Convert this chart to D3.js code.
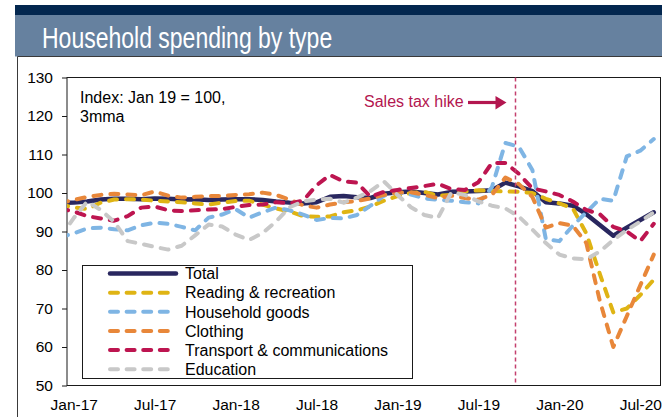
<!DOCTYPE html>
<html>
<head>
<meta charset="utf-8">
<script src="https://cdn.jsdelivr.net/npm/d3@7"></script>
<style>
  html, body { margin: 0; padding: 0; background: #fff; }
  svg { display: block; font-family: "Liberation Sans", Arial, sans-serif; }
</style>
</head>
<body>
<svg id="chart" width="662" height="417"></svg>
<script>
// Monthly index values (Jan 19 = 100, 3-month moving average), Dec-16 to Aug-20
const months = [
  "Dec-16",
  "Jan-17","Feb-17","Mar-17","Apr-17","May-17","Jun-17","Jul-17","Aug-17","Sep-17","Oct-17","Nov-17","Dec-17",
  "Jan-18","Feb-18","Mar-18","Apr-18","May-18","Jun-18","Jul-18","Aug-18","Sep-18","Oct-18","Nov-18","Dec-18",
  "Jan-19","Feb-19","Mar-19","Apr-19","May-19","Jun-19","Jul-19","Aug-19","Sep-19","Oct-19","Nov-19","Dec-19",
  "Jan-20","Feb-20","Mar-20","Apr-20","May-20","Jun-20","Jul-20","Aug-20"
];

const total = [97.4,
  97.5, 97.8, 98.3, 98.5, 98.5, 98.4, 98.6, 98.5, 98.3, 98.4,
  98.2, 98.3, 98.4, 98.4, 98.2, 97.8, 97.5, 97.3, 97.6, 99.0,
  99.2, 98.9, 98.7, 99.8, 100.2, 100.4, 100.0, 99.6, 100.3, 100.4,
  100.5, 100.7, 102.7, 101.7, 100.5, 97.6, 97.3, 96.7, 94.5, 91.7,
  88.9, 91.0, 93.0, 95.0];

const reading = [97.0,
  96.3, 95.8, 97.5, 98.3, 98.4, 98.3, 98.0, 97.8, 97.6, 97.3,
  97.0, 97.5, 97.9, 98.0, 97.0, 96.0, 95.2, 94.0, 93.8, 93.9,
  95.0, 95.5, 96.5, 98.0, 99.2, 100.0, 100.3, 99.3, 99.5, 100.4,
  100.7, 100.5, 100.4, 100.3, 100.0, 98.5, 97.3, 96.0, 89.5, 79.0,
  69.0, 70.0, 73.5, 77.5];

const household = [88.5,
  89.5, 90.8, 91.0, 90.6, 90.3, 91.6, 92.3, 92.0, 91.2, 90.3,
  93.6, 94.4, 95.8, 93.6, 95.0, 96.2, 95.5, 94.4, 93.0, 93.5,
  93.4, 94.3, 96.7, 99.3, 100.2, 99.6, 98.6, 98.2, 98.0, 97.6,
  97.3, 101.5, 113.0, 112.0, 106.0, 88.0, 87.5, 91.5, 95.0, 98.5,
  98.0, 109.5, 111.0, 114.0];

const clothing = [97.4,
  98.2, 99.0, 99.5, 99.8, 99.6, 99.4, 100.4, 99.3, 98.8, 99.0,
  99.2, 99.2, 99.5, 99.7, 100.1, 99.5, 98.3, 96.8, 96.2, 97.0,
  97.6, 97.9, 98.6, 99.5, 100.1, 100.2, 99.5, 98.7, 99.3, 98.7,
  98.3, 99.5, 104.0, 102.3, 99.0, 91.0, 92.2, 91.5, 87.0, 72.0,
  60.0, 68.0, 76.0, 84.0];

const transport = [96.0,
  95.2, 94.0, 93.4, 92.8, 94.0, 96.2, 96.5, 95.5, 95.3, 95.5,
  95.7, 95.8, 96.4, 96.9, 97.0, 97.6, 97.3, 98.0, 102.0, 104.7,
  103.0, 102.7, 99.0, 100.3, 100.8, 101.3, 101.8, 102.4, 101.0, 100.8,
  102.8, 107.8, 107.8, 105.0, 101.2, 100.4, 99.5, 97.8, 95.6, 94.5,
  91.2, 90.0, 87.5, 92.0];

const education = [88.5,
  93.5, 97.8, 95.6, 92.5, 87.5, 86.8, 86.0, 85.3, 86.3, 89.0,
  91.8, 91.3, 89.2, 87.8, 89.6, 92.6, 96.3, 97.8, 98.3, 98.5,
  97.5, 98.8, 100.5, 103.0, 99.5, 96.3, 94.3, 93.5, 100.2, 99.5,
  97.8, 96.7, 96.0, 93.9, 90.5, 87.0, 84.0, 83.0, 82.8, 84.8,
  87.8, 90.4, 92.6, 95.0];

const seriesNames  = ["Total", "Reading & recreation", "Household goods", "Clothing", "Transport & communications", "Education"];
const seriesValues = [total, reading, household, clothing, transport, education];
const seriesColors = ["#29275f", "#dfb414", "#7fb5e4", "#e8873a", "#bd1550", "#c8c8c8"];

const tickLabels = ["Jan-17", "Jul-17", "Jan-18", "Jul-18", "Jan-19", "Jul-19", "Jan-20", "Jul-20"];
const yTicks = [50, 60, 70, 80, 90, 100, 110, 120, 130];
const taxHikeMonth = "Oct-19";

const svg = d3.select("#chart");
const W = 662, H = 417;
const plot = { left: 67, right: 660.5, top: 77.5, bottom: 385.5 };

// month position: Jan-17 is slot 0, slots centred between tick marks
const firstShown = months.indexOf("Jan-17");
const nSlots = months.length - firstShown;
const x = d3.scaleLinear()
  .domain([-0.5, nSlots - 0.5])
  .range([plot.left, plot.right]);
const xm = m => x(months.indexOf(m) - firstShown);
const y = d3.scaleLinear().domain([50, 130]).range([plot.bottom, plot.top]);

// header bands and title
svg.append("rect").attr("x", 15).attr("y", 5).attr("width", W - 15).attr("height", 10).attr("fill", "#03274f");
svg.append("rect").attr("x", 15).attr("y", 15).attr("width", W - 15).attr("height", 41.5).attr("fill", "#66819f");
svg.append("text")
  .attr("transform", "translate(42,48.3) scale(0.78,1)")
  .attr("font-size", 29.5).attr("fill", "#fff")
  .text("Household spending by type");

// outer frame
svg.append("path")
  .attr("d", `M17.5,${H}V56.5H${W}`)
  .attr("fill", "none").attr("stroke", "#3a3a3a").attr("stroke-width", 1);

// plot frame
svg.append("rect")
  .attr("x", plot.left).attr("y", plot.top)
  .attr("width", plot.right - plot.left).attr("height", plot.bottom - plot.top)
  .attr("fill", "none").attr("stroke", "#1a1a1a").attr("stroke-width", 1);

// y axis
const yAxis = svg.append("g")
  .attr("transform", `translate(${plot.left},0)`)
  .call(d3.axisLeft(y).tickValues(yTicks).tickSize(5).tickPadding(9));
yAxis.select(".domain").remove();
yAxis.selectAll("line").attr("stroke", "#1a1a1a");
yAxis.selectAll("text").attr("font-size", 15.5).attr("fill", "#000")
  .attr("font-family", "'Liberation Sans', Arial, sans-serif");

// x axis labels
const tickIdx = tickLabels.map(t => months.indexOf(t) - firstShown);
const xAxis = svg.append("g")
  .attr("transform", `translate(0,${plot.bottom})`)
  .call(d3.axisBottom(x).tickValues(tickIdx)
    .tickFormat(d => months[d + firstShown]).tickSize(0).tickPadding(13.5));
xAxis.select(".domain").remove();
xAxis.selectAll("text").attr("font-size", 15.5).attr("fill", "#000")
  .attr("font-family", "'Liberation Sans', Arial, sans-serif");

// series lines, clipped to the plot area
svg.append("clipPath").attr("id", "plotClip")
  .append("rect")
  .attr("x", plot.left).attr("y", plot.top)
  .attr("width", plot.right - plot.left).attr("height", plot.bottom - plot.top);

const line = d3.line()
  .x((d, i) => x(i - firstShown))
  .y(d => y(d));

const lines = svg.append("g").attr("clip-path", "url(#plotClip)");
seriesValues.forEach((vals, k) => {
  lines.append("path")
    .datum(vals)
    .attr("d", line)
    .attr("fill", "none")
    .attr("stroke", seriesColors[k])
    .attr("stroke-width", k === 0 ? 4.5 : 4)
    .attr("stroke-linecap", "round")
    .attr("stroke-linejoin", "round")
    .attr("stroke-dasharray", k === 0 ? null : "8,9");
});

// sales tax hike marker (between Sep-19 and Oct-19)
const taxX = xm(taxHikeMonth) - 0.25 * (x(1) - x(0));
svg.append("line")
  .attr("x1", taxX).attr("x2", taxX)
  .attr("y1", plot.top).attr("y2", plot.bottom)
  .attr("stroke", "#c4406e").attr("stroke-width", 1.5)
  .attr("stroke-dasharray", "4,3");

svg.append("text")
  .attr("x", 364).attr("y", 106.5)
  .attr("font-size", 16).attr("fill", "#b3164f")
  .text("Sales tax hike");
svg.append("line")
  .attr("x1", 468).attr("x2", taxX - 18).attr("y1", 102.5).attr("y2", 102.5)
  .attr("stroke", "#b3164f").attr("stroke-width", 3.2);
svg.append("path")
  .attr("d", `M${taxX - 20},96 L${taxX - 9},102.5 L${taxX - 20},109.5 Z`)
  .attr("fill", "#b3164f");

// index note
const note = svg.append("text").attr("font-size", 16).attr("fill", "#000");
note.append("tspan").attr("x", 80).attr("y", 103.3).text("Index: Jan 19 = 100,");
note.append("tspan").attr("x", 80).attr("y", 122).text("3mma");

// legend
const lg = svg.append("g");
lg.append("rect")
  .attr("x", 82.5).attr("y", 265.5).attr("width", 330).attr("height", 113)
  .attr("fill", "#fff").attr("stroke", "#1a1a1a").attr("stroke-width", 1);
seriesNames.forEach((name, k) => {
  const cy = 273.5 + k * 19.15;
  lg.append("line")
    .attr("x1", 110).attr("x2", 176).attr("y1", cy).attr("y2", cy)
    .attr("stroke", seriesColors[k])
    .attr("stroke-width", k === 0 ? 4.5 : 4)
    .attr("stroke-linecap", "round")
    .attr("stroke-dasharray", k === 0 ? null : "8,8.6");
  lg.append("text")
    .attr("x", 185).attr("y", cy).attr("dy", "0.36em")
    .attr("font-size", 16).attr("fill", "#000")
    .text(name);
});
</script>
</body>
</html>
